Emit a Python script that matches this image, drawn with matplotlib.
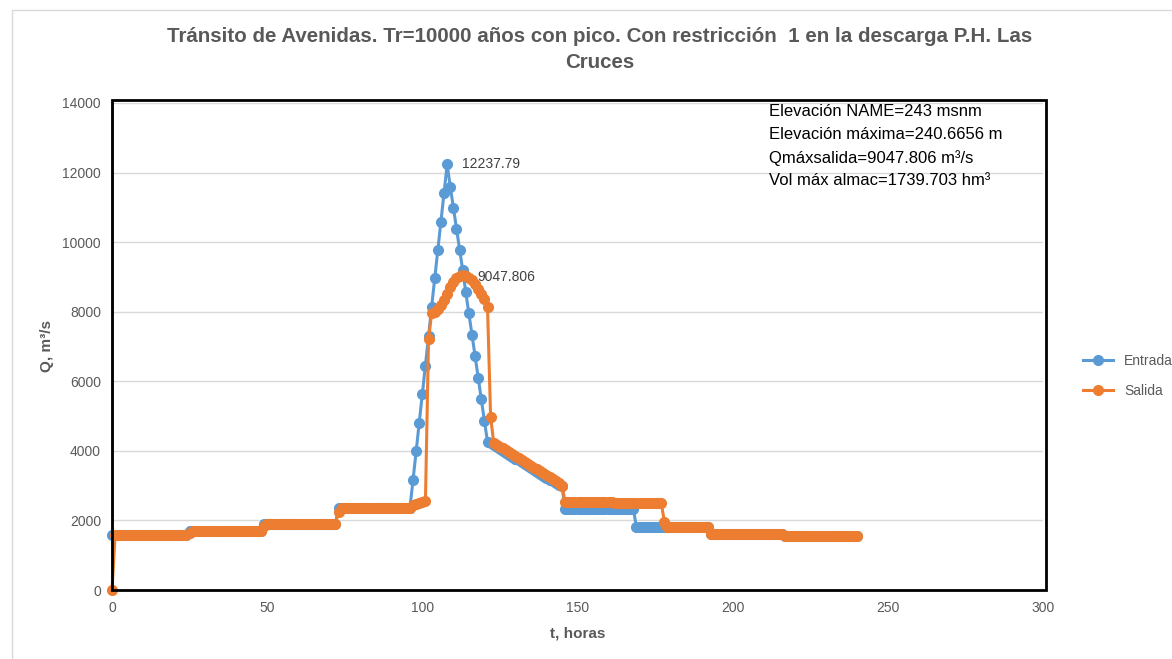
import matplotlib.pyplot as plt
import numpy as np
from matplotlib.patches import Rectangle

plt.rcParams['font.family'] = ['Liberation Sans', 'DejaVu Sans']

# hourly series, t = 0..240 h
t = np.arange(0, 241)

entrada = ([1580] * 25 + [1705] * 24 + [1910] * 24 + [2360] * 24 +
           [3160, 3995, 4810, 5634, 6448, 7290, 8144, 8959, 9773, 10587, 11403, 12237.79,
            11592, 10990, 10377, 9773, 9198, 8557, 7953, 7330, 6726, 6103, 5490, 4866, 4263] +
           [4216, 4165, 4110, 4055, 4000, 3945, 3890, 3835, 3780, 3725, 3670, 3615,
            3560, 3505, 3450, 3395, 3340, 3285, 3230, 3175, 3120, 3065, 3015, 2985] +
           [2330] * 23 + [1800] * 24 + [1600] * 24 + [1555] * 24)

salida = ([0] + [1580] * 24 + [1650] + [1705] * 23 + [1850] + [1910] * 23 + [2250] + [2360] * 23 +
          [2440, 2480, 2500, 2520, 2550,
           7215, 7953, 8000, 8080, 8180, 8330, 8520, 8700, 8850, 8960, 9025, 9047.806,
           9030, 8975, 8900, 8790, 8660, 8520, 8370, 8144, 4982] +
          [4235, 4180, 4125, 4070, 4015, 3960, 3905, 3850, 3795, 3740, 3685, 3630,
           3575, 3520, 3465, 3410, 3355, 3300, 3245, 3190, 3135, 3080, 3000] +
          [2540, 2540, 2538, 2537, 2535, 2534, 2532, 2530, 2529, 2527, 2525, 2524,
           2522, 2520, 2519, 2517, 2515, 2514, 2512, 2510, 2509, 2507, 2505, 2504,
           2502, 2500, 2499, 2497, 2495, 2494, 2492, 2490] +
          [1964] + [1810] * 14 + [1600] * 24 + [1555] * 24)

q_pico_entrada = 12237.79
t_pico_entrada = 108
q_pico_salida = 9047.806
t_pico_salida = 113

titulo = 'Tránsito de Avenidas. Tr=10000 años con pico. Con restricción  1 en la descarga P.H. Las\nCruces'
info = ['Elevación NAME=243 msnm', 'Elevación máxima=240.6656 m',
        'Qmáxsalida=9047.806 m³/s', 'Vol máx almac=1739.703 hm³']

W, H = 1172, 659
fig = plt.figure(figsize=(W / 100, H / 100), dpi=100)
ax = fig.add_axes([112 / W, 1 - 590 / H, (1043 - 112) / W, (590 - 103) / H])

blue = '#5B9BD5'
orange = '#ED7D31'
gray = '#595959'

ax.plot(t, entrada, '-o', color=blue, lw=2.2, markersize=7, label='Entrada', zorder=3, clip_on=False)
ax.plot(t, salida, '-o', color=orange, lw=2.2, markersize=7, label='Salida', zorder=4, clip_on=False)

ax.set_xlim(0, 300)
ax.set_ylim(0, 14000)
ax.set_xticks(np.arange(0, 301, 50))
ax.set_yticks(np.arange(0, 14001, 2000))
ax.yaxis.grid(True, color='#d9d9d9', lw=1)
ax.set_axisbelow(True)
ax.tick_params(length=0, labelsize=10, labelcolor=gray, pad=8)
for s in ['top', 'right']:
    ax.spines[s].set_visible(False)
ax.spines['left'].set_color('#898989')
ax.spines['left'].set_linewidth(2)
ax.spines['bottom'].set_color('#898989')

ax.set_xlabel('t, horas', fontsize=11, fontweight='bold', color=gray, labelpad=8)
ax.set_ylabel('Q, m³/s', fontsize=11, fontweight='bold', color=gray, labelpad=6)

ax.annotate(f'{q_pico_entrada:.2f}', (t_pico_entrada, q_pico_entrada), xytext=(15, 0),
            textcoords='offset pixels', va='center', fontsize=10, color='#404040')
ax.annotate(f'{q_pico_salida:.3f}', (t_pico_salida, q_pico_salida), xytext=(15, -2),
            textcoords='offset pixels', va='center', fontsize=10, color='#404040')

fig.suptitle(titulo, x=600 / W, y=1 - 27 / H, fontsize=14.8, fontweight='bold', color=gray,
             linespacing=1.5)

# black text box over plot area
fig.add_artist(Rectangle((112 / W, 1 - 590 / H), (1046 - 112) / W, (590 - 100) / H,
                         transform=fig.transFigure, fill=False, ec='black', lw=2, zorder=5))
for i, line in enumerate(info):
    fig.text(769 / W, 1 - (111 + 23.3 * i) / H, line, fontsize=12, color='black', va='center')

# chart area border
fig.add_artist(Rectangle((12 / W, -0.1), 1.2, 1 - 10 / H + 0.1, transform=fig.transFigure,
                         fill=False, ec='#d9d9d9', lw=1))

ax.legend(loc='center left', bbox_to_anchor=(1070 / W, 1 - 376 / H), bbox_transform=fig.transFigure,
          frameon=False, fontsize=10, labelcolor=gray, handlelength=2.2, labelspacing=1.2)

fig.savefig('out.png', dpi=100)
